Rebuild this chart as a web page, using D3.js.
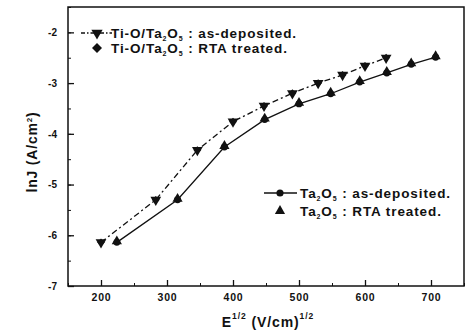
<!DOCTYPE html>
<html lang="en">
<head>
<meta charset="UTF-8">
<script src="https://d3js.org/d3.v7.min.js"></script>
<style>
  body { margin: 0; background: #fff; }
  svg text { font-family: Arial, "Liberation Sans", sans-serif; font-weight: bold; fill: #111; }
  .axis path, .axis line { stroke: #111; }
</style>
</head>
<body>
<svg id="chart" width="468" height="332"></svg>
<script>
// sqrt(E) values (V/cm)^1/2 and lnJ values
var tiX = [200, 283, 346, 400, 447, 490, 529, 566, 600, 632];
var tiAsDep = [-6.14, -5.30, -4.32, -3.76, -3.45, -3.20, -3.00, -2.84, -2.66, -2.50];
var tiRTA = [-6.14, -5.30, -4.32, -3.76, -3.45, -3.20, -3.00, -2.84, -2.66, -2.50];

var taX = [224, 316, 387, 448, 500, 548, 592, 633, 670, 707];
var taAsDep = [-6.14, -5.30, -4.26, -3.72, -3.41, -3.21, -2.98, -2.80, -2.63, -2.49];
var taRTA = [-6.14, -5.30, -4.26, -3.72, -3.41, -3.21, -2.98, -2.80, -2.63, -2.49];

var xTicks = [200, 300, 400, 500, 600, 700];
var yTicks = [-2, -3, -4, -5, -6, -7];

var svg = d3.select("#chart");
var mLeft = 68, mRight = 464, mTop = 7, mBottom = 286;

var x = d3.scaleLinear().domain([150, 750]).range([mLeft, mRight]);
var y = d3.scaleLinear().domain([-7, -1.5]).range([mBottom, mTop]);

// frame
svg.append("rect")
  .attr("x", mLeft).attr("y", mTop)
  .attr("width", mRight - mLeft).attr("height", mBottom - mTop)
  .attr("fill", "none").attr("stroke", "#111").attr("stroke-width", 1.5);

// ticks point inward, minor ones shorter
var gx = svg.append("g").attr("class", "axis").attr("transform", "translate(0," + mBottom + ")");
gx.call(d3.axisBottom(x).tickValues(d3.range(150, 751, 50)).tickSize(-3).tickFormat(""));
gx.select(".domain").remove();
var gxm = svg.append("g").attr("class", "axis").attr("transform", "translate(0," + mBottom + ")");
gxm.call(d3.axisBottom(x).tickValues(xTicks).tickSize(-6).tickPadding(8));
gxm.select(".domain").remove();
gxm.selectAll("text").style("font-size", "10.5px").attr("dy", "0.7em").style("letter-spacing", "0.8px");
gxm.selectAll("line").attr("stroke-width", 1.3);

var gy = svg.append("g").attr("class", "axis").attr("transform", "translate(" + mLeft + ",0)");
gy.call(d3.axisLeft(y).tickValues(d3.range(-7, -1.49, 0.5)).tickSize(-3).tickFormat(""));
gy.select(".domain").remove();
var gym = svg.append("g").attr("class", "axis").attr("transform", "translate(" + mLeft + ",0)");
gym.call(d3.axisLeft(y).tickValues(yTicks).tickSize(-6).tickPadding(11).tickFormat(d => String(d)));
gym.select(".domain").remove();
gym.selectAll("text").style("font-size", "10px");
gym.selectAll("line").attr("stroke-width", 1.3);

// lines
var line = d3.line().x(d => x(d[0])).y(d => y(d[1]));
svg.append("path")
  .datum(d3.zip(tiX, tiAsDep))
  .attr("d", line).attr("fill", "none").attr("stroke", "#111")
  .attr("stroke-width", 1.3).attr("stroke-dasharray", "6,3,2,3");
svg.append("path")
  .datum(d3.zip(taX, taAsDep))
  .attr("d", line).attr("fill", "none").attr("stroke", "#111")
  .attr("stroke-width", 1.3);

function marker(sel, type, size) {
  return sel.attr("d", d3.symbol().type(type).size(size)).attr("fill", "#111");
}

// Ti-O markers: down triangle + diamond overlapping
svg.append("g").selectAll("path").data(d3.zip(tiX, tiAsDep)).join("path")
  .call(marker, d3.symbolTriangle, 50)
  .attr("transform", d => "translate(" + x(d[0]) + "," + y(d[1]) + ") rotate(180)");
svg.append("g").selectAll("path").data(d3.zip(tiX, tiRTA)).join("path")
  .call(marker, d3.symbolSquare, 30)
  .attr("transform", d => "translate(" + x(d[0]) + "," + y(d[1]) + ") rotate(45)");

// Ta2O5 markers: circle + triangle overlapping
svg.append("g").selectAll("path").data(d3.zip(taX, taAsDep)).join("path")
  .call(marker, d3.symbolCircle, 38)
  .attr("transform", d => "translate(" + x(d[0]) + "," + y(d[1]) + ")");
svg.append("g").selectAll("path").data(d3.zip(taX, taRTA)).join("path")
  .call(marker, d3.symbolTriangle, 45)
  .attr("transform", d => "translate(" + x(d[0]) + "," + (y(d[1]) - 1) + ")");

// legend text with subscripts
function legendText(tx, ty, parts) {
  var t = svg.append("text").attr("x", tx).attr("y", ty)
    .style("font-size", "13.5px").style("letter-spacing", "0.9px");
  parts.forEach(function(p) {
    var s = t.append("tspan").text(p[0]);
    if (p[1] === "sub") s.style("font-size", "7px").attr("dy", 3);
    if (p[1] === "back") s.attr("dy", -3);
  });
  return t;
}

// upper legend
svg.append("line").attr("x1", 81).attr("x2", 112).attr("y1", 33).attr("y2", 33)
  .attr("stroke", "#111").attr("stroke-width", 1.3).attr("stroke-dasharray", "4,2,1.5,2");
marker(svg.append("path"), d3.symbolTriangle, 55).attr("transform", "translate(97,33) rotate(180)");
legendText(111, 38, [["Ti-O/Ta"], ["2", "sub"], ["O", "back"], ["5", "sub"], [" : as-deposited.", "back"]]);
marker(svg.append("path"), d3.symbolSquare, 50).attr("transform", "translate(97,48) rotate(45)");
legendText(111, 53, [["Ti-O/Ta"], ["2", "sub"], ["O", "back"], ["5", "sub"], [" : RTA treated.", "back"]]);

// lower legend
svg.append("line").attr("x1", 264).attr("x2", 297).attr("y1", 193).attr("y2", 193)
  .attr("stroke", "#111").attr("stroke-width", 1.5);
marker(svg.append("path"), d3.symbolCircle, 40).attr("transform", "translate(280,193)");
legendText(300, 198, [["Ta"], ["2", "sub"], ["O", "back"], ["5", "sub"], [" : as-deposited.", "back"]]);
marker(svg.append("path"), d3.symbolTriangle, 45).attr("transform", "translate(280,211)");
legendText(300, 216, [["Ta"], ["2", "sub"], ["O", "back"], ["5", "sub"], [" : RTA treated.", "back"]]);

// axis titles
var yt = svg.append("text")
  .attr("transform", "translate(37,152) rotate(-90)")
  .attr("text-anchor", "middle").style("font-size", "14px").style("letter-spacing", "0.8px");
yt.append("tspan").text("lnJ (A/cm");
yt.append("tspan").text("2").style("font-size", "8px").attr("dy", -5);
yt.append("tspan").text(")").attr("dy", 5);

var xt = svg.append("text")
  .attr("x", 268).attr("y", 327)
  .attr("text-anchor", "middle").style("font-size", "14px").style("letter-spacing", "0.9px");
xt.append("tspan").text("E");
xt.append("tspan").text("1/2").style("font-size", "8.5px").attr("dy", -8);
xt.append("tspan").text(" (V/cm)").attr("dy", 8);
xt.append("tspan").text("1/2").style("font-size", "8.5px").attr("dy", -8);
</script>
</body>
</html>
